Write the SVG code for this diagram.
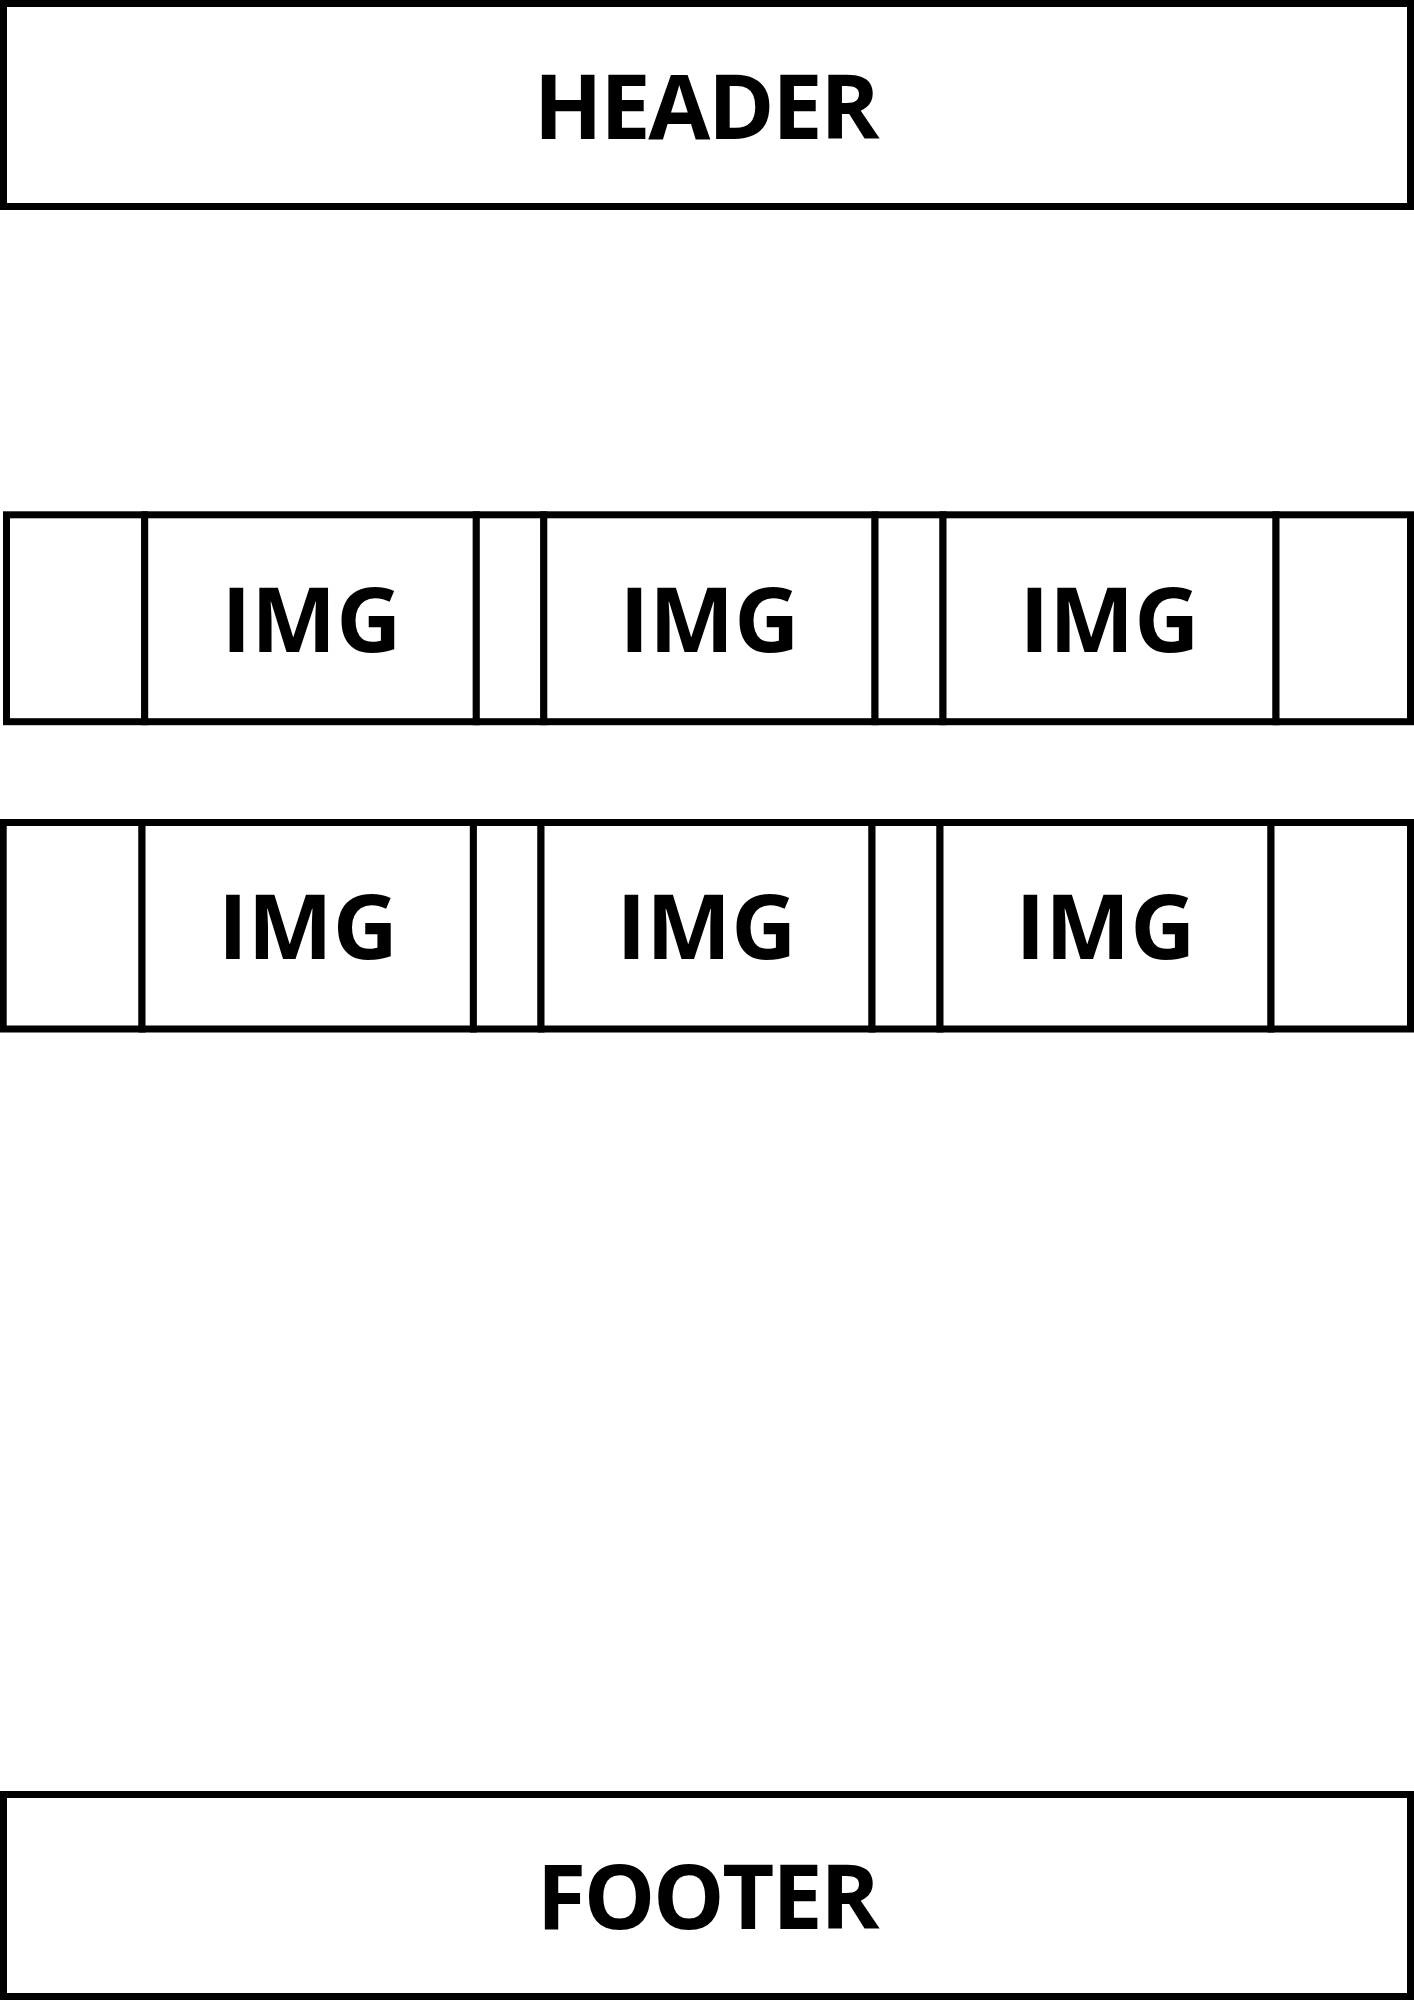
<svg xmlns="http://www.w3.org/2000/svg" width="1414" height="2000" viewBox="0 0 1414 2000">
  <style>
    .box { fill: #ffffff; stroke: #000000; stroke-width: 7; }
    .lbl { font-family: "Open Sans", "Liberation Sans", sans-serif; font-weight: bold; font-size: 90px; fill: #000000; text-anchor: middle; }
    .wide { letter-spacing: -2.35px; }
  </style>
  <rect x="0" y="0" width="1414" height="2000" fill="#ffffff"/>
  <g id="header">
    <rect class="box" x="3.5" y="3.5" width="1407" height="203"/>
    <text class="lbl wide" x="705.5" y="139">HEADER</text>
  </g>
  <g id="row1">
    <g id="row1-spacer1"><rect class="box" x="6.5" y="514.8" width="138.2" height="206.9"/></g>
    <g id="row1-img1">
      <rect class="box" x="144.7" y="514.8" width="331.6" height="206.9"/>
      <text class="lbl" x="311.5" y="652.3">IMG</text>
    </g>
    <g id="row1-spacer2"><rect class="box" x="476.3" y="514.8" width="67.5" height="206.9"/></g>
    <g id="row1-img2">
      <rect class="box" x="543.8" y="514.8" width="331.2" height="206.9"/>
      <text class="lbl" x="709.4" y="652.3">IMG</text>
    </g>
    <g id="row1-spacer3"><rect class="box" x="875" y="514.8" width="68" height="206.9"/></g>
    <g id="row1-img3">
      <rect class="box" x="943" y="514.8" width="333" height="206.9"/>
      <text class="lbl" x="1109.5" y="652.3">IMG</text>
    </g>
    <g id="row1-spacer4"><rect class="box" x="1276" y="514.8" width="134.5" height="206.9"/></g>
  </g>
  <g id="row2">
    <g id="row2-spacer1"><rect class="box" x="3.2" y="822.5" width="138.8" height="206.5"/></g>
    <g id="row2-img1">
      <rect class="box" x="142" y="822.5" width="331.4" height="206.5"/>
      <text class="lbl" x="308" y="959">IMG</text>
    </g>
    <g id="row2-spacer2"><rect class="box" x="473.4" y="822.5" width="67.6" height="206.5"/></g>
    <g id="row2-img2">
      <rect class="box" x="541" y="822.5" width="331" height="206.5"/>
      <text class="lbl" x="706.5" y="959">IMG</text>
    </g>
    <g id="row2-spacer3"><rect class="box" x="872" y="822.5" width="68" height="206.5"/></g>
    <g id="row2-img3">
      <rect class="box" x="940" y="822.5" width="331" height="206.5"/>
      <text class="lbl" x="1105.5" y="959">IMG</text>
    </g>
    <g id="row2-spacer4"><rect class="box" x="1271" y="822.5" width="139.5" height="206.5"/></g>
  </g>
  <g id="footer">
    <rect class="box" x="3.5" y="1794.5" width="1407" height="202"/>
    <text class="lbl wide" x="707" y="1929.3">FOOTER</text>
  </g>
  <g id="connectors"></g>
</svg>
